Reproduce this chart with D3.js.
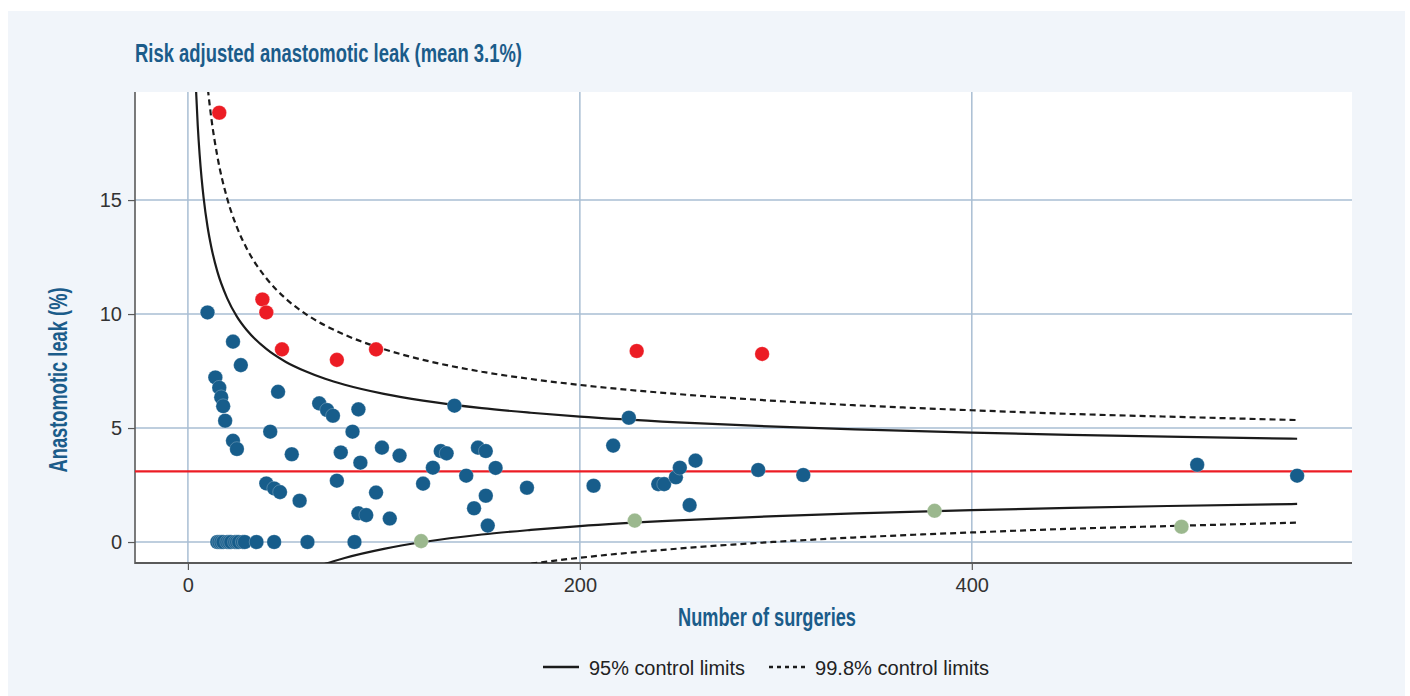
<!DOCTYPE html>
<html>
<head>
<meta charset="utf-8">
<script src="https://cdn.jsdelivr.net/npm/d3@7"></script>
<style>
  html, body { margin: 0; padding: 0; background: #ffffff; }
  svg { display: block; }
</style>
</head>
<body>
<svg id="chart" width="1410" height="696"></svg>
<script>
// ---- data ----------------------------------------------------------------
const meanLeak = 3.1;

// hospitals within control limits
const inControlN = [10, 23, 27, 14, 16, 17, 18, 19, 23, 25, 46, 42, 53, 67, 71, 74, 87, 84, 78, 88,
  99, 108, 40, 44, 47, 57, 76, 96, 120, 87, 91, 103, 125, 129, 132, 142, 148, 152, 157, 152,
  146, 153, 173, 136, 225, 217, 207, 240, 243, 249, 251, 259, 256, 291, 314, 515, 566,
  15, 16, 17, 18, 20, 21, 22, 24, 25, 26, 28, 29, 35, 44, 61, 85];
const inControlLeak = [10.07, 8.79, 7.76, 7.22, 6.77, 6.35, 5.96, 5.32, 4.44, 4.08, 6.59, 4.84, 3.85, 6.08, 5.79, 5.54, 5.82, 4.84, 3.93, 3.48,
  4.14, 3.79, 2.57, 2.35, 2.19, 1.81, 2.69, 2.17, 2.56, 1.26, 1.18, 1.03, 3.26, 3.99, 3.89, 2.91, 4.14, 3.99, 3.25, 2.03,
  1.48, 0.72, 2.38, 5.98, 5.45, 4.23, 2.47, 2.54, 2.54, 2.84, 3.26, 3.57, 1.62, 3.16, 2.94, 3.39, 2.91,
  0, 0, 0, 0, 0, 0, 0, 0, 0, 0, 0, 0, 0, 0, 0, 0];

// hospitals above the upper limit
const highN = [16, 38, 40, 48, 76, 96, 229, 293];
const highLeak = [18.83, 10.64, 10.07, 8.45, 7.99, 8.45, 8.38, 8.25];

// hospitals below the lower limit
const lowN = [119, 228, 381, 507];
const lowLeak = [0.04, 0.94, 1.37, 0.67];

// control limits (%), by number of surgeries
const limitN    = [4, 5, 6, 7, 8, 10, 12, 15, 20, 25, 30, 40, 50, 60, 70, 80, 100, 120, 150, 175, 200, 250, 300, 350, 400, 450, 500, 566];
const upper95   = [20.09, 18.29, 16.97, 15.94, 15.11, 13.84, 12.91, 11.87, 10.70, 9.89, 9.30, 8.47, 7.90, 7.49, 7.16, 6.90, 6.50, 6.20, 5.87, 5.67, 5.50, 5.25, 5.06, 4.92, 4.80, 4.70, 4.62, 4.53];
const lower95N  = [60, 70, 80, 100, 120, 150, 175, 200, 250, 300, 350, 400, 450, 500, 566];
const lower95   = [-1.29, -0.96, -0.70, -0.30, 0.00, 0.33, 0.53, 0.70, 0.95, 1.14, 1.28, 1.40, 1.50, 1.58, 1.67];
const upper998N = [8, 10, 12, 15, 20, 25, 30, 40, 50, 60, 70, 80, 100, 120, 150, 175, 200, 250, 300, 350, 400, 450, 500, 566];
const upper998  = [22.04, 20.04, 18.56, 16.93, 15.08, 13.81, 12.88, 11.57, 10.67, 10.01, 9.50, 9.09, 8.46, 7.99, 7.47, 7.15, 6.89, 6.49, 6.19, 5.96, 5.78, 5.62, 5.50, 5.35];
const lower998N = [150, 175, 200, 250, 300, 350, 400, 450, 500, 566];
const lower998  = [-1.27, -0.95, -0.69, -0.29, 0.01, 0.24, 0.42, 0.58, 0.70, 0.85];

const xTicks = [0, 200, 400];
const yTicks = [0, 5, 10, 15];

const titleText = "Risk adjusted anastomotic leak (mean 3.1%)";
const xLabel = "Number of surgeries";
const yLabel = "Anastomotic leak (%)";
const legendItems = [
  { label: "95% control limits", dash: null },
  { label: "99.8% control limits", dash: "4,4" }
];

// ---- layout & style -------------------------------------------------------
const W = 1410, H = 696;
const plot = { left: 135, right: 1352, top: 92, bottom: 563 };
const C = {
  panel: "#f1f5fa",
  blue: "#175d8b",
  red: "#ec1c24",
  green: "#9bb88e",
  grid: "#a9bed3",
  axis: "#5a5a5a",
  limit: "#1b1b1b",
  tickText: "#333333",
  labelBlue: "#1b5c8a"
};
const headFont = "'Liberation Sans', Arial, sans-serif";
const bodyFont = "'Liberation Sans', Arial, sans-serif";

const svg = d3.select("#chart");

// background panel
svg.append("rect").attr("x", 8).attr("y", 11).attr("width", 1397).attr("height", H - 11).attr("fill", C.panel);
svg.append("rect")
  .attr("x", plot.left).attr("y", plot.top)
  .attr("width", plot.right - plot.left).attr("height", plot.bottom - plot.top)
  .attr("fill", "#ffffff");

// scales
const x = d3.scaleLinear().domain([-27, 594]).range([plot.left, plot.right]);
const y = d3.scaleLinear().domain([-0.92, 19.74]).range([plot.bottom, plot.top]);

svg.append("defs").append("clipPath").attr("id", "plot-clip")
  .append("rect")
  .attr("x", plot.left).attr("y", plot.top)
  .attr("width", plot.right - plot.left).attr("height", plot.bottom - plot.top);

// grid
const grid = svg.append("g");
grid.selectAll("line.gx").data(xTicks).join("line")
  .attr("x1", d => x(d)).attr("x2", d => x(d))
  .attr("y1", plot.top).attr("y2", plot.bottom)
  .attr("stroke", C.grid).attr("stroke-width", 1.5);
grid.selectAll("line.gy").data(yTicks).join("line")
  .attr("x1", plot.left).attr("x2", plot.right)
  .attr("y1", d => y(d)).attr("y2", d => y(d))
  .attr("stroke", C.grid).attr("stroke-width", 1.5);

// axes
const xAxis = d3.axisBottom(x).tickValues(xTicks).tickSize(7).tickPadding(5).tickFormat(d3.format("d"));
const yAxis = d3.axisLeft(y).tickValues(yTicks).tickSize(7).tickPadding(6).tickFormat(d3.format("d"));

const gx = svg.append("g").attr("transform", `translate(0,${plot.bottom})`).call(xAxis);
const gy = svg.append("g").attr("transform", `translate(${plot.left},0)`).call(yAxis);
[gx, gy].forEach(g => {
  g.select(".domain").remove();
  g.selectAll(".tick line").attr("stroke", C.axis).attr("stroke-width", 1.2);
  g.selectAll(".tick text")
    .attr("fill", C.tickText)
    .style("font-family", bodyFont)
    .style("font-size", "20px");
});
gx.selectAll(".tick text").attr("dy", "0.85em");

svg.append("line")
  .attr("x1", plot.left).attr("x2", plot.left)
  .attr("y1", plot.top).attr("y2", plot.bottom + 1)
  .attr("stroke", C.axis).attr("stroke-width", 1.6);
svg.append("line")
  .attr("x1", plot.left).attr("x2", plot.right)
  .attr("y1", plot.bottom).attr("y2", plot.bottom)
  .attr("stroke", C.axis).attr("stroke-width", 2);

// lines clipped to plot area
const layer = svg.append("g").attr("clip-path", "url(#plot-clip)");

layer.append("line")
  .attr("x1", plot.left).attr("x2", plot.right)
  .attr("y1", y(meanLeak)).attr("y2", y(meanLeak))
  .attr("stroke", C.red).attr("stroke-width", 2.4);

const line = d3.line().x(d => x(d[0])).y(d => y(d[1])).curve(d3.curveMonotoneX);
const zip = (a, b) => a.map((v, i) => [v, b[i]]);

const limits = [
  { pts: zip(limitN, upper95), dash: null },
  { pts: zip(lower95N, lower95), dash: null },
  { pts: zip(upper998N, upper998), dash: "6,4" },
  { pts: zip(lower998N, lower998), dash: "6,4" }
];
layer.selectAll("path.limit").data(limits).join("path")
  .attr("class", "limit")
  .attr("d", d => line(d.pts))
  .attr("fill", "none")
  .attr("stroke", C.limit)
  .attr("stroke-width", 2.2)
  .attr("stroke-dasharray", d => d.dash);

// hospitals
const groups = [
  { n: inControlN, v: inControlLeak, color: C.blue },
  { n: highN, v: highLeak, color: C.red },
  { n: lowN, v: lowLeak, color: C.green }
];
groups.forEach(g => {
  layer.append("g").selectAll("circle").data(zip(g.n, g.v)).join("circle")
    .attr("cx", d => x(d[0]))
    .attr("cy", d => y(d[1]))
    .attr("r", 7.3)
    .attr("fill", g.color)
    .attr("stroke", "#ffffff")
    .attr("stroke-opacity", 0.3)
    .attr("stroke-width", 0.8);
});

// titles
svg.append("text")
  .attr("x", 135).attr("y", 62)
  .attr("fill", C.labelBlue)
  .style("font-family", headFont).style("font-weight", "bold").style("font-size", "26px")
  .attr("textLength", 387).attr("lengthAdjust", "spacingAndGlyphs")
  .text(titleText);

svg.append("text")
  .attr("x", 767).attr("y", 626)
  .attr("text-anchor", "middle")
  .attr("fill", C.labelBlue)
  .style("font-family", headFont).style("font-weight", "bold").style("font-size", "25px")
  .attr("textLength", 178).attr("lengthAdjust", "spacingAndGlyphs")
  .text(xLabel);

svg.append("text")
  .attr("transform", "translate(67,380) rotate(-90)")
  .attr("text-anchor", "middle")
  .attr("fill", C.labelBlue)
  .style("font-family", headFont).style("font-weight", "bold").style("font-size", "25px")
  .attr("textLength", 185).attr("lengthAdjust", "spacingAndGlyphs")
  .text(yLabel);

// legend
const legend = svg.append("g");
const legendPos = [{ lx: 543, tx: 589, w: 156 }, { lx: 769, tx: 815, w: 174 }];
legendItems.forEach((item, i) => {
  const p = legendPos[i];
  legend.append("line")
    .attr("x1", p.lx).attr("x2", p.lx + 36)
    .attr("y1", 667).attr("y2", 667)
    .attr("stroke", C.limit).attr("stroke-width", 2.6)
    .attr("stroke-dasharray", item.dash);
  legend.append("text")
    .attr("x", p.tx).attr("y", 675)
    .attr("fill", "#222222")
    .style("font-family", bodyFont).style("font-size", "20px")
    .attr("textLength", p.w).attr("lengthAdjust", "spacingAndGlyphs")
    .text(item.label);
});
</script>
</body>
</html>
